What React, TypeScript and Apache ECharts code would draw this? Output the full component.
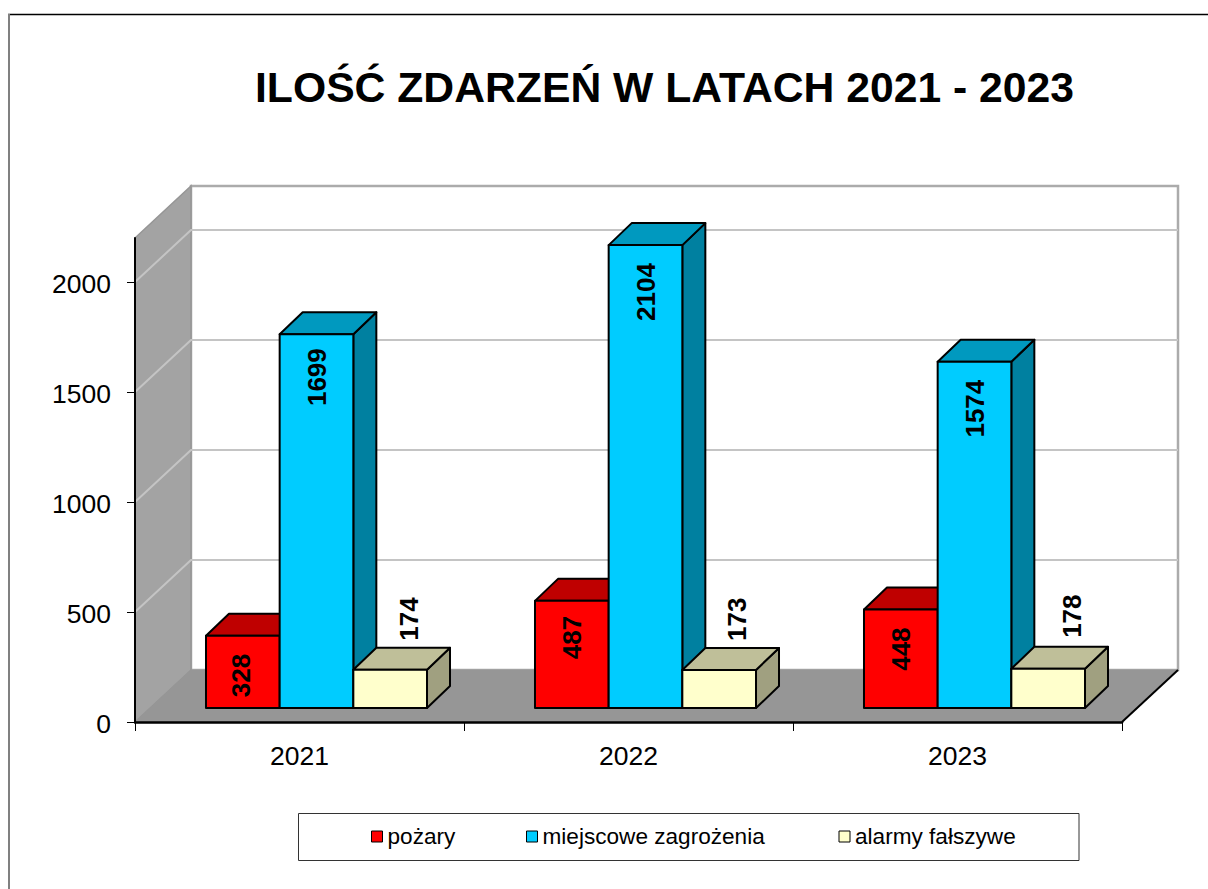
import React, { useEffect, useRef } from "react";
import * as echarts from "echarts";

const categories = ["2021", "2022", "2023"];
const seriesNames = ["pożary", "miejscowe zagrożenia", "alarmy fałszywe"];
const pozary = [328, 487, 448];
const miejscowe = [1699, 2104, 1574];
const alarmy = [174, 173, 178];
const yTicks = [0, 500, 1000, 1500, 2000];

const titleText = "ILOŚĆ ZDARZEŃ W LATACH 2021 - 2023";
const FONT = '"Liberation Sans", Arial, sans-serif';
const WALL_DX = 56;
const WALL_DY = 52;
const BAR_DX = 23;
const BAR_DY = 22;
const FLOOR_X = 17;
const FLOOR_Y = 14;
const BAR_SHARE = 73.67 / 329;

// small hand placement of the value labels, by series and year
const labelNudgeX = [[-2, 0, 0], [0, 0, 0], [-1, -2, 4]];
const labelNudgeY = [[0, -3, 0], [-4, 0, 0], [0, 0, -2]];
const legendLefts = [371, 526, 838.5];

const palette = [
  { front: "#FF0000", top: "#BF0000", side: "#800000" },
  { front: "#00CCFF", top: "#0099BF", side: "#0080A0" },
  { front: "#FFFFCC", top: "#BFBF99", side: "#A0A080" },
];

const renderFrame = (_p: any, api: any) => {
  const [x0, y0] = api.coord([0, 0]);
  const yTop = api.coord([0, 2200])[1];
  const band = api.size([1, 0])[0];
  const left = x0 - band / 2;
  const right = left + band * categories.length;
  const children: any[] = [
    {
      type: "rect",
      shape: { x: left + WALL_DX, y: yTop - WALL_DY, width: right - left, height: y0 - yTop },
      style: { fill: "#FFFFFF", stroke: "#ABABAB", lineWidth: 2.5 },
    },
    {
      type: "polygon",
      shape: {
        points: [
          [left, yTop],
          [left + WALL_DX, yTop - WALL_DY],
          [left + WALL_DX, y0 - WALL_DY],
          [left, y0],
        ],
      },
      style: { fill: "#A3A3A3", stroke: "#969696", lineWidth: 1.5 },
    },
  ];
  yTicks.slice(1).forEach((v) => {
    const y = api.coord([0, v])[1];
    children.push({
      type: "polyline",
      shape: {
        points: [
          [left, y],
          [left + WALL_DX, y - WALL_DY],
          [right + WALL_DX, y - WALL_DY],
        ],
      },
      style: { fill: "none", stroke: "#C4C4C4", lineWidth: 2 },
    });
  });
  children.push({
    type: "polygon",
    shape: {
      points: [
        [left, y0],
        [right, y0],
        [right + WALL_DX, y0 - WALL_DY],
        [left + WALL_DX, y0 - WALL_DY],
      ],
    },
    style: { fill: "#969696", stroke: "#969696", lineWidth: 1 },
  });
  children.push({
    type: "line",
    shape: { x1: right, y1: y0, x2: right + WALL_DX, y2: y0 - WALL_DY },
    style: { stroke: "#000000", lineWidth: 2 },
  });
  return { type: "group", children };
};

const makeRender = (si: number) => (_p: any, api: any) => {
  const i = api.value(0);
  const v = api.value(1);
  const band = api.size([1, 0])[0];
  const w = band * BAR_SHARE;
  const cx = api.coord([i, 0])[0] + FLOOR_X;
  const base = api.coord([i, 0])[1] - FLOOR_Y;
  const top = api.coord([i, v])[1] - FLOOR_Y;
  const l = cx + (si - 1.5) * w;
  const r = l + w;
  const c = palette[si];
  const stroke = { stroke: "#000000", lineWidth: 2, lineJoin: "round" };
  const inside = si < 2;
  return {
    type: "group",
    children: [
      {
        type: "polygon",
        shape: { points: [[r, base], [r + BAR_DX, base - BAR_DY], [r + BAR_DX, top - BAR_DY], [r, top]] },
        style: { fill: c.side, ...stroke },
      },
      {
        type: "polygon",
        shape: { points: [[l, top], [r, top], [r + BAR_DX, top - BAR_DY], [l + BAR_DX, top - BAR_DY]] },
        style: { fill: c.top, ...stroke },
      },
      {
        type: "rect",
        shape: { x: l, y: top, width: w, height: base - top },
        style: { fill: c.front, ...stroke },
      },
      {
        type: "text",
        x: (inside ? l + w / 2 : l + w / 2 + 20) + labelNudgeX[si][i],
        y: (inside ? top + 18 : top - BAR_DY - 7) + labelNudgeY[si][i],
        rotation: Math.PI / 2,
        style: {
          text: String(v),
          fill: "#000000",
          font: `bold 26px ${FONT}`,
          align: inside ? "right" : "left",
          verticalAlign: "middle",
        },
      },
    ],
  };
};

const valuesBySeries = [pozary, miejscowe, alarmy];

export default function App() {
  const ref = useRef<HTMLDivElement>(null);
  useEffect(() => {
    const chart = echarts.init(ref.current!, undefined, { renderer: "svg" });
    chart.setOption({
      animation: false,
      backgroundColor: "#FFFFFF",
      title: {
        text: titleText,
        left: 255,
        top: 65,
        padding: 0,
        textStyle: { fontFamily: FONT, fontWeight: "bold", fontSize: 42.7, color: "#000000" },
      },
      grid: { left: 135, right: 86, top: 238, bottom: 167 },
      xAxis: {
        type: "category",
        data: categories,
        z: 10,
        axisLine: { lineStyle: { color: "#000000", width: 2.5 } },
        axisTick: { show: true, length: 9, lineStyle: { color: "#000000", width: 1 } },
        axisLabel: { color: "#000000", fontFamily: FONT, fontSize: 26.5, margin: 20 },
      },
      yAxis: {
        type: "value",
        min: 0,
        max: 2200,
        interval: 500,
        z: 10,
        splitLine: { show: false },
        axisLine: { show: true, lineStyle: { color: "#000000", width: 2 } },
        axisTick: { show: true, length: 8, customValues: yTicks, lineStyle: { color: "#000000", width: 1 } },
        axisLabel: {
          color: "#000000",
          fontFamily: FONT,
          fontSize: 26.5,
          margin: 24,
          customValues: yTicks,
          formatter: (v: number) => `{n|${v}}`,
          rich: {
            n: { color: "#000000", fontFamily: FONT, fontSize: 26.5, padding: [4, 0, 0, 0] },
          },
        },
      },
      legend: seriesNames.map((name, i) => ({
        left: legendLefts[i],
        top: 825,
        padding: 0,
        itemWidth: 11,
        itemHeight: 11,
        data: [{ name, icon: "rect" }],
        itemStyle: { borderColor: "#000000", borderWidth: 1 },
        textStyle: { color: "#000000", fontFamily: FONT, fontSize: 22.6 },
      })),
      graphic: [
        {
          type: "line",
          silent: true,
          shape: { x1: 8, y1: 14.5, x2: 1208, y2: 14.5 },
          style: { stroke: "#000000", lineWidth: 1.5 },
        },
        {
          type: "line",
          silent: true,
          shape: { x1: 9, y1: 14, x2: 9, y2: 889 },
          style: { stroke: "#808080", lineWidth: 2 },
        },
        {
          type: "rect",
          silent: true,
          z: -1,
          shape: { x: 298.5, y: 813.5, width: 780.5, height: 47 },
          style: { fill: "#FFFFFF", stroke: "#333333", lineWidth: 1 },
        },
      ],
      series: [
        {
          type: "custom",
          silent: true,
          z: 1,
          renderItem: renderFrame,
          data: [[0, 0]],
          encode: { x: 0, y: 1 },
        },
        ...seriesNames.map((name, si) => ({
          type: "custom",
          name,
          z: 2 + si,
          itemStyle: { color: palette[si].front },
          renderItem: makeRender(si),
          data: valuesBySeries[si].map((v, i) => [i, v]),
          encode: { x: 0, y: 1 },
        })),
      ],
    });
    return () => chart.dispose();
  }, []);
  return <div ref={ref} style={{ position: "fixed", left: 0, top: 0, width: 1208, height: 889 }} />;
}
